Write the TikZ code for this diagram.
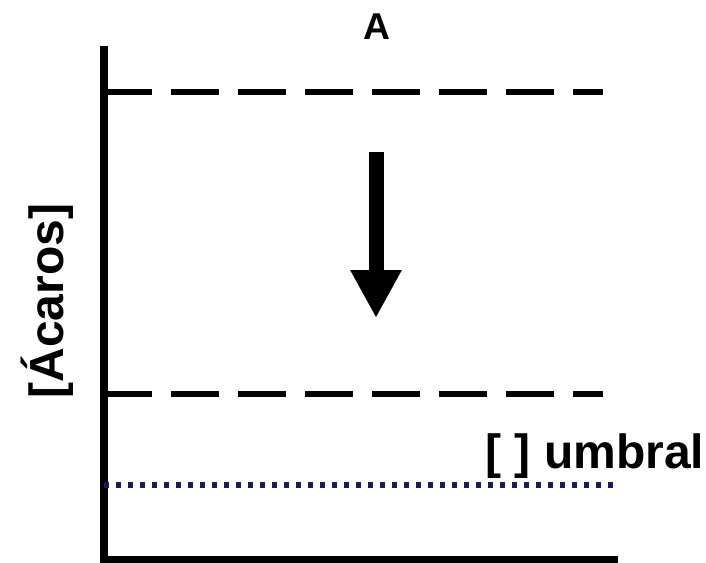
\documentclass[tikz,border=0pt]{standalone}
\usepackage{fontspec}
\setmainfont{Liberation Sans}
\usepackage{tikz}
\usetikzlibrary{arrows.meta}
\definecolor{umbralblue}{RGB}{28,28,84}

\begin{document}
\begin{tikzpicture}[x=0.75pt,y=-0.75pt,
  axisline/.style={line width=5.6pt},
  levelline/.style={line width=4.6pt,dash pattern=on 36pt off 14.25pt},
  umbralline/.style={umbralblue,line width=4.2pt,dash pattern=on 3.75pt off 5.25pt},
  lbl/.style={font=\fontsize{36}{40}\selectfont\bfseries,inner sep=0pt}]
\useasboundingbox (0,0) rectangle (706,562);
\coordinate (top) at (104,46);
\coordinate (origin) at (104,560);
\coordinate (xend) at (618,560);
\draw[axisline] (top) -- (origin) -- (xend);
\coordinate (hi-l) at (104,92);
\coordinate (hi-r) at (603,92);
\coordinate (lo-l) at (104,394);
\coordinate (lo-r) at (603,394);
\draw[levelline] (hi-l) -- (hi-r);
\draw[levelline] (lo-l) -- (lo-r);
\coordinate (um-l) at (104,485);
\coordinate (um-r) at (615,485);
\draw[umbralline] (um-l) -- (um-r);
\coordinate (drop-a) at (376,152);
\coordinate (drop-b) at (376,318);
\draw[line width=11.25pt,-{Triangle[length=36pt,width=36pt]}] (drop-a) -- (drop-b);
\node[lbl,font=\fontsize{28}{32}\selectfont\bfseries,anchor=base] (panel) at (377,39) {A};
\node[lbl,rotate=90,anchor=base] (ylab) at (63,301) {[Ácaros]};
\node[lbl,anchor=base] (umbral) at (595,468) {[ ] umbral};
\end{tikzpicture}
\end{document}
